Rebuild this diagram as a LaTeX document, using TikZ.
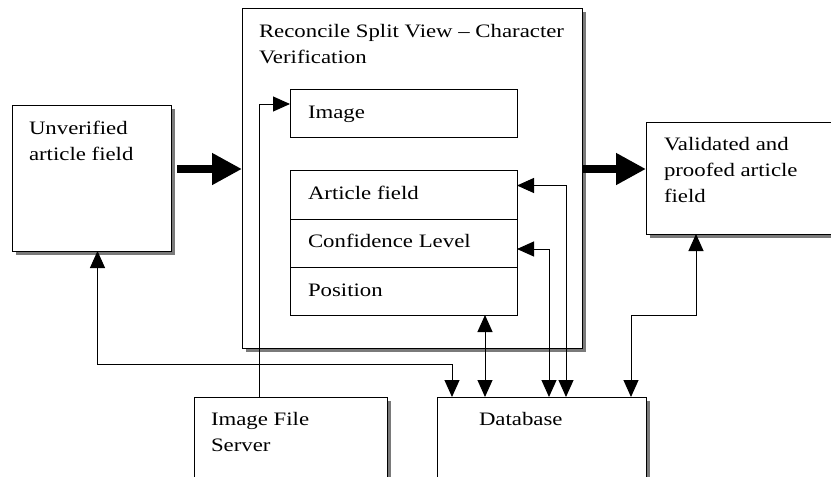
\documentclass[tikz,border=0pt]{standalone}
\usepackage{fontspec}
\setmainfont{Liberation Serif}[FakeStretch=1.2]
\usetikzlibrary{arrows.meta,shadows}
\definecolor{shadowgray}{HTML}{7A7A7A}
\begin{document}
\begin{tikzpicture}[x=1pt,y=-1pt,
  box/.style={draw=black, line width=1pt, fill=white, inner sep=0pt, outer sep=0pt, anchor=north west},
  shbox/.style={box, drop shadow={shadow xshift=4pt, shadow yshift=-4pt, fill=shadowgray, opacity=1}},
  lbl/.style={inner sep=0pt, outer sep=0pt, font=\fontsize{19}{26}\selectfont, align=left},
  conn/.style={line width=1pt, >={Triangle[length=17pt,width=15pt]}},
  thickarrow/.style={line width=8pt, -{Triangle[length=30pt,width=30pt]}}
]
\useasboundingbox (0,0) rectangle (831,477);
\clip (0,0) rectangle (831,477);
% boxes
\node[shbox, minimum width=159pt, minimum height=146pt] (unv) at (12,105) {};
\node[shbox, minimum width=340pt, minimum height=340pt] (main) at (242,8) {};
\node[box, minimum width=227pt, minimum height=48pt] (img) at (290,89) {};
\node[box, minimum width=227pt, minimum height=49pt] (art) at (290,170) {};
\node[box, minimum width=227pt, minimum height=48pt] (conf) at (290,219) {};
\node[box, minimum width=227pt, minimum height=48pt] (pos) at (290,267) {};
\node[shbox, minimum width=204pt, minimum height=112pt] (val) at (646,122) {};
\node[shbox, minimum width=193pt, minimum height=100pt] (ifs) at (194,397) {};
\node[shbox, minimum width=209pt, minimum height=100pt] (db) at (437,397) {};
% labels
\node[lbl, anchor=north west] (tunv) at (29,121) {Unverified\\article field};
\node[lbl, anchor=north west] (tmain) at (259,24) {Reconcile Split View – Character\\Verification};
\node[lbl, anchor=base west] (timg) at (308,118) {Image};
\node[lbl, anchor=base west] (tart) at (308,199) {Article field};
\node[lbl, anchor=base west] (tconf) at (308,247) {Confidence Level};
\node[lbl, anchor=base west] (tpos) at (308,296) {Position};
\node[lbl, anchor=north west] (tval) at (664,137) {Validated and\\proofed article\\field};
\node[lbl, anchor=north west] (tifs) at (211,412) {Image File\\Server};
\node[lbl, anchor=base west] (tdb) at (479,425) {Database};
% thick flow arrows
\draw[thickarrow] ([xshift=6pt,yshift=9pt]unv.east) -- ([yshift=9pt]main.west);
\draw[thickarrow] ([yshift=9pt]main.east) -- ([yshift=9pt]val.west);
% connectors
\coordinate (s1) at ([xshift=65pt]ifs.north west);
\draw[conn, ->] (s1) |- ([yshift=9pt]img.west);
\coordinate (u1) at ([xshift=15pt]db.north west);
\draw[conn, <->] ([xshift=6pt]unv.south) -- ++(0,113) -| (u1);
\coordinate (p1) at ([xshift=48pt]db.north west);
\draw[conn, <->] (p1 |- pos.south) -- (p1);
\coordinate (c1) at ([xshift=112pt]db.north west);
\draw[conn, <->] ([yshift=-6pt]conf.east) -| (c1);
\coordinate (a1) at ([xshift=129pt]db.north west);
\draw[conn, <->] ([yshift=9pt]art.east) -| (a1);
\coordinate (v1) at ([xshift=194pt]db.north west);
\coordinate (v2) at ([xshift=50pt]val.south west);
\draw[conn, <->] (v1) -- ++(0,-82) -| (v2);
\end{tikzpicture}
\end{document}
